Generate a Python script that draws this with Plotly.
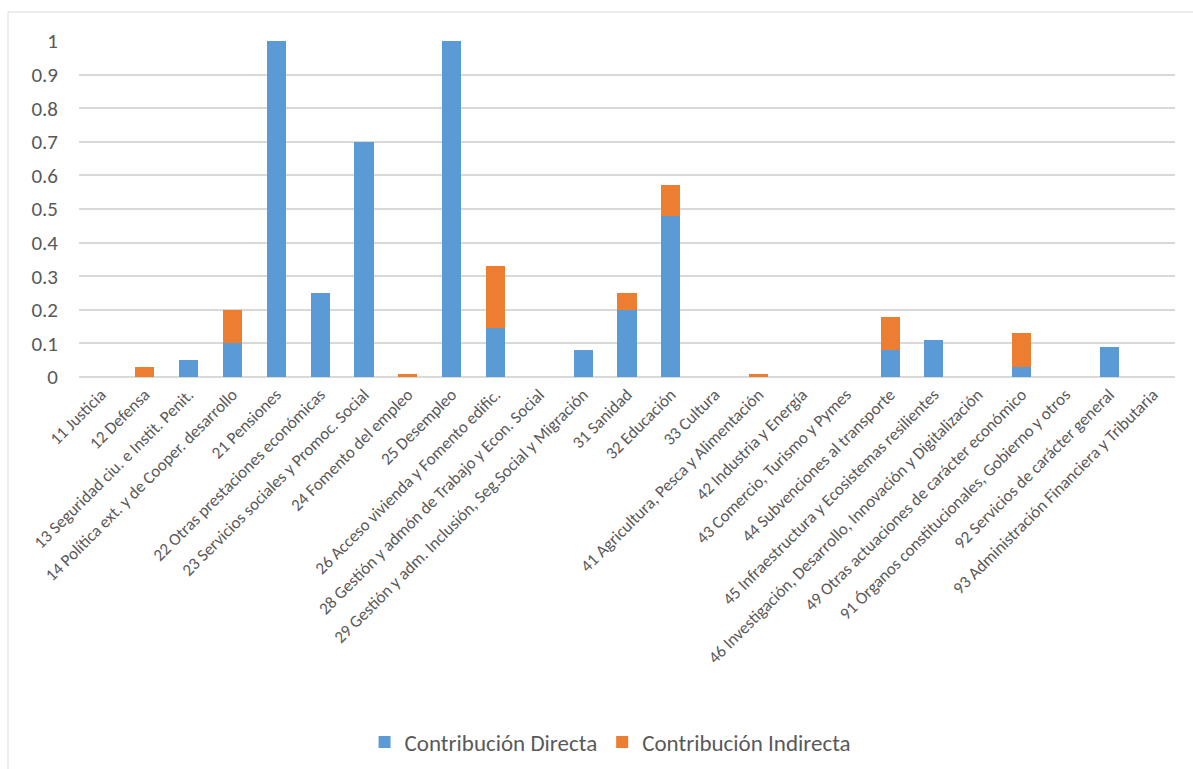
import plotly.graph_objects as go

categories = [
    "11 Justicia",
    "12 Defensa",
    "13 Seguridad ciu. e Instit. Penit.",
    "14 Política ext. y de Cooper. desarrollo",
    "21 Pensiones",
    "22 Otras prestaciones económicas",
    "23 Servicios sociales y Promoc. Social",
    "24 Fomento del empleo",
    "25 Desempleo",
    "26 Acceso vivienda y Fomento edific.",
    "28 Gestión y admón de Trabajo y Econ. Social",
    "29 Gestión y adm. Inclusión, Seg.Social y Migración",
    "31 Sanidad",
    "32 Educación",
    "33 Cultura",
    "41 Agricultura, Pesca y Alimentación",
    "42 Industria y Energía",
    "43 Comercio, Turismo y Pymes",
    "44 Subvenciones al transporte",
    "45 Infraestructura y Ecosistemas resilientes",
    "46 Investigación, Desarrollo, Innovación y Digitalización",
    "49 Otras actuaciones de carácter económico",
    "91 Órganos constitucionales, Gobierno y otros",
    "92 Servicios de carácter general",
    "93 Administración Financiera y Tributaria",
]

directa = [0, 0, 0.05, 0.10, 1.0, 0.25, 0.70, 0, 1.0, 0.145, 0, 0.08, 0.20, 0.48,
           0, 0, 0, 0, 0.08, 0.11, 0, 0.03, 0, 0.09, 0]
indirecta = [0, 0.03, 0, 0.10, 0, 0, 0, 0.01, 0, 0.185, 0, 0, 0.05, 0.09,
             0, 0.01, 0, 0, 0.10, 0, 0, 0.10, 0, 0, 0]

y_ticks = [0, 0.1, 0.2, 0.3, 0.4, 0.5, 0.6, 0.7, 0.8, 0.9, 1]
y_tick_text = ["0", "0.1", "0.2", "0.3", "0.4", "0.5", "0.6", "0.7", "0.8", "0.9", "1"]

FONT = "Calibri, Carlito, Lato, sans-serif"
TXT = "#595959"

fig = go.Figure()
fig.add_trace(go.Bar(x=categories, y=directa, name="Contribución Directa",
                     marker=dict(color="#5B9BD5", line=dict(width=0))))
fig.add_trace(go.Bar(x=categories, y=indirecta, name="Contribución Indirecta",
                     marker=dict(color="#ED7D31", line=dict(width=0))))

W, H = 1193, 769
ml, mr, mt, mb = 79, 18, 41, 392
pw = W - ml - mr
ph = H - mt - mb
bx = (8 - ml) / pw
by = ((H - mb) - 12) / ph

fig.update_layout(
    width=W, height=H,
    barmode="stack",
    bargap=0.565,
    plot_bgcolor="white",
    paper_bgcolor="white",
    margin=dict(l=ml, r=mr, t=mt, b=mb, autoexpand=False),
    font=dict(family=FONT, color=TXT),
    showlegend=True,
    legend=dict(orientation="h", x=0.485, xanchor="center",
                y=((H - mb) - 742) / ph, yanchor="middle",
                font=dict(size=23, color=TXT, family=FONT),
                itemwidth=30, traceorder="normal"),
    xaxis=dict(tickangle=-45, tickfont=dict(size=17, color=TXT, family=FONT),
               showgrid=False, showline=True, linecolor="#D9D9D9", linewidth=1,
               ticks="", automargin=False),
    yaxis=dict(range=[0, 1], tickvals=y_ticks, ticktext=y_tick_text,
               tickfont=dict(size=21, color=TXT, family=FONT),
               showgrid=True, gridcolor="#D9D9D9", gridwidth=1.5,
               zeroline=True, zerolinecolor="#D9D9D9", zerolinewidth=1.5,
               ticklabelstandoff=20, automargin=False),
    shapes=[
        dict(type="line", xref="paper", yref="paper", x0=bx, x1=1.2, y0=by, y1=by,
             line=dict(color="#D9D9D9", width=1)),
        dict(type="line", xref="paper", yref="paper", x0=bx, x1=bx, y0=by, y1=-1.3,
             line=dict(color="#D9D9D9", width=1)),
    ],
)

fig.write_html("out.html")
